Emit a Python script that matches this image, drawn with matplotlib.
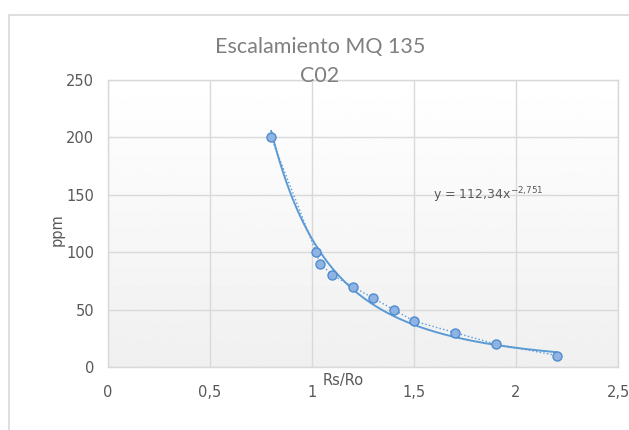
import numpy as np
import matplotlib
matplotlib.use("Agg")
import matplotlib.pyplot as plt
from matplotlib.patches import Rectangle
from matplotlib.ticker import FuncFormatter

plt.rcParams["mathtext.default"] = "regular"

# data
rs_ro = [0.8, 1.02, 1.04, 1.1, 1.2, 1.3, 1.4, 1.5, 1.7, 1.9, 2.2]
ppm = [200, 100, 90, 80, 70, 60, 50, 40, 30, 20, 10]
x_ticks = [0, 0.5, 1, 1.5, 2, 2.5]
y_ticks = [0, 50, 100, 150, 200, 250]

# power trend line y = a * x^b (fit in log space)
b, log_a = np.polyfit(np.log(rs_ro), np.log(ppm), 1)
a = np.exp(log_a)
trend_x = np.linspace(min(rs_ro), max(rs_ro), 200)
trend_y = a * trend_x ** b

line_col = "#5b9bd5"
text_col = "#595959"

fig = plt.figure(figsize=(6.29, 4.30), dpi=100)
fig.patches.append(Rectangle((9 / 629, -0.05), 1.0, 1 - 15.5 / 430 + 0.05,
                             transform=fig.transFigure, fill=False,
                             edgecolor="#d9d9d9", linewidth=1.2))

ax = fig.add_axes([108 / 629, 1 - 367 / 430, 510 / 629, 287 / 430])

# gradient plot area
grad = np.linspace(1.0, 0.94, 256).reshape(-1, 1)
ax.imshow(grad, cmap="gray", vmin=0, vmax=1, aspect="auto",
          extent=[0, 2.5, 0, 250], zorder=0, origin="upper")

ax.set_xlim(0, 2.5)
ax.set_ylim(0, 250)
ax.set_xticks(x_ticks)
ax.set_yticks(y_ticks)
ax.grid(True, color="#d9d9d9", linewidth=1.0, zorder=1)
ax.set_axisbelow(True)
for sp in ax.spines.values():
    sp.set_edgecolor("#d9d9d9")
    sp.set_linewidth(1.0)

ax.xaxis.set_major_formatter(FuncFormatter(lambda v, _: f"{v:g}".replace(".", ",")))
ax.tick_params(length=0, labelsize=10.5, colors=text_col, pad=10)
ax.tick_params(axis="x", pad=13)

ax.plot(trend_x, trend_y, color=line_col, linewidth=1.4, zorder=3)
ax.plot(rs_ro, ppm, color=line_col, linestyle=":", linewidth=1.0, zorder=3,
        marker="o", markersize=6.5, markerfacecolor="#8fb4e3",
        markeredgecolor="#4f8ccf", markeredgewidth=1.0)

ax.text(1.595, 150, "y = 112,34x$^{-2{,}751}$", fontsize=9, color=text_col,
        ha="left", va="center")

fig.text(320 / 629, 1 - 47 / 430, "Escalamiento MQ 135", ha="center", va="center",
         fontsize=15.5, color="#7f7f7f", family="Lato")
fig.text(320 / 629, 1 - 76 / 430, "C02", ha="center", va="center",
         fontsize=15.5, color="#7f7f7f", family="Lato")
fig.text(343 / 629, 1 - 380 / 430, "Rs/Ro", ha="center", va="center",
         fontsize=10.5, color=text_col)
fig.text(57 / 629, 1 - 230 / 430, "ppm", ha="center", va="center",
         rotation=90, fontsize=10.5, color=text_col)

fig.savefig("out.png", dpi=100)
